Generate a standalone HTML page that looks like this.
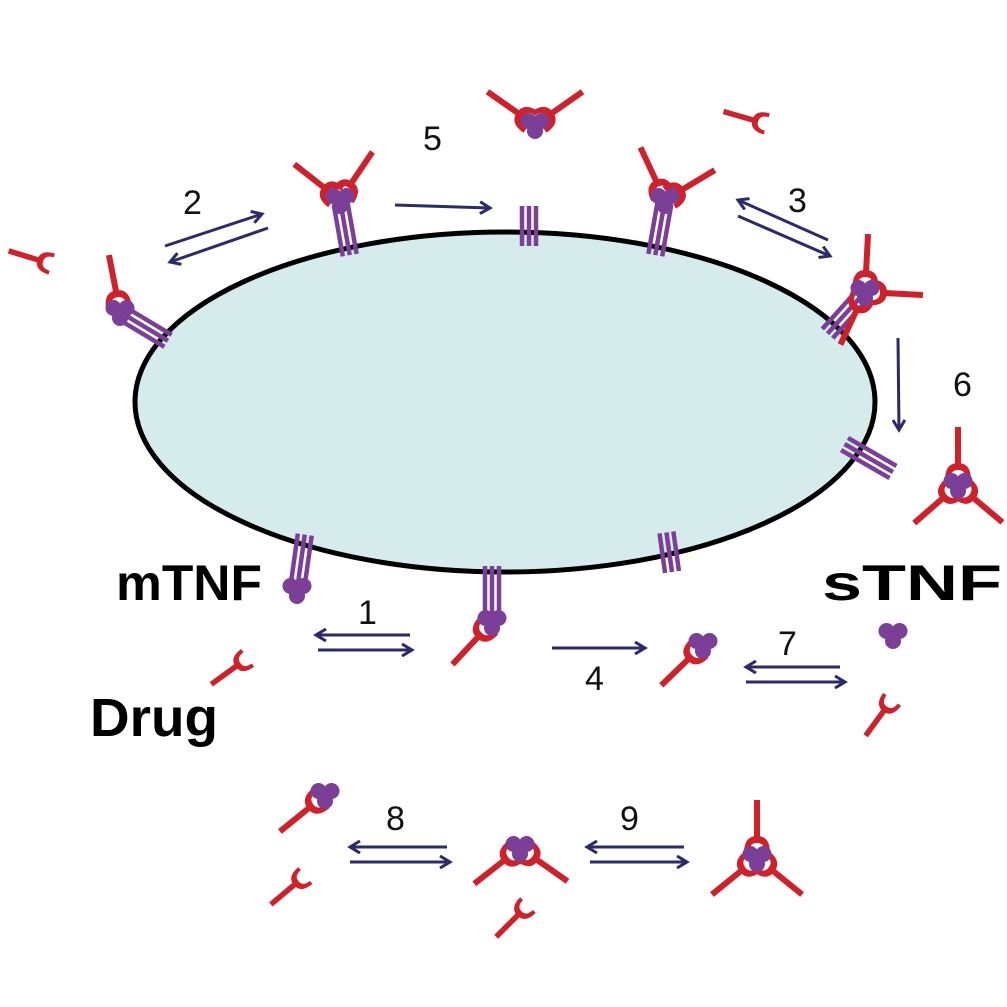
<!DOCTYPE html>
<html><head><meta charset="utf-8"><style>
html,body{margin:0;padding:0;background:#fff;}
svg{display:block;}
text{font-family:"Liberation Sans",sans-serif;}
</style></head><body>
<svg width="1007" height="1007" viewBox="0 0 1007 1007" xmlns="http://www.w3.org/2000/svg">
<defs>
<marker id="ah" markerWidth="14" markerHeight="14" refX="11" refY="7" orient="auto" markerUnits="userSpaceOnUse">
<path d="M1,1 L11,7 L1,13" fill="none" stroke="#2b2a6b" stroke-width="3"/>
</marker>
<g id="drug"><path d="M-13,-7 Q-13,10 0,10 Q13,10 13,-7 L8,-7 Q8,3 0,3 Q-8,3 -8,-7 Z" fill="#d0202a"/><line x1="0" y1="8" x2="0" y2="46" stroke="#d0202a" stroke-width="6"/></g>
<g id="drugS"><path d="M-11,-7 Q-11,8 0,8 Q11,8 11,-7 L7,-7 Q7,2 0,2 Q-7,2 -7,-7 Z" fill="#d0202a"/><line x1="0" y1="6" x2="0" y2="38" stroke="#d0202a" stroke-width="5.5"/></g>
<g id="tri" fill="#7b3f98"><circle cx="-6.5" cy="-4" r="8"/><circle cx="6.5" cy="-4" r="8"/><circle cx="0" cy="6" r="8"/></g>
<g id="stalk" stroke="#7b3f98" stroke-width="4.5"><line x1="-7" y1="4" x2="-7" y2="56"/><line x1="0" y1="4" x2="0" y2="56"/><line x1="7" y1="4" x2="7" y2="56"/></g>
<g id="stalkS" stroke="#7b3f98" stroke-width="4.5"><line x1="-7" y1="0" x2="-7" y2="40"/><line x1="0" y1="0" x2="0" y2="40"/><line x1="7" y1="0" x2="7" y2="40"/></g>
</defs>

<ellipse cx="505" cy="402" rx="370" ry="170" fill="#d6ecec" stroke="#000" stroke-width="5"/>

<g transform="translate(340,200)"><g transform="rotate(-10)"><use href="#stalk"/></g><g transform="rotate(128) translate(0,12)"><use href="#drug"/></g><g transform="rotate(-146) translate(0,12)"><use href="#drug"/></g><use href="#tri"/></g>
<g transform="translate(120,312)"><g transform="rotate(-59)"><use href="#stalk"/></g><g transform="rotate(169) translate(0,12)"><use href="#drug"/></g><use href="#tri"/></g>
<g transform="translate(45,262) rotate(107)"><use href="#drugS"/></g>
<g transform="translate(529,206)"><use href="#stalkS"/></g>
<g transform="translate(535,125)"><g transform="rotate(125) translate(0,12)"><use href="#drug"/></g><g transform="rotate(-125) translate(0,12)"><use href="#drug"/></g><use href="#tri"/></g>
<g transform="translate(760,122) rotate(106)"><use href="#drugS"/></g>
<g transform="translate(665,200)"><g transform="rotate(10)"><use href="#stalk"/></g><g transform="rotate(155) translate(0,12)"><use href="#drug"/></g><g transform="rotate(-121) translate(0,12)"><use href="#drug"/></g><use href="#tri"/></g>
<g transform="translate(865,292)"><g transform="rotate(42)"><use href="#stalk"/></g><g transform="rotate(25) translate(0,12)"><use href="#drug"/></g><g transform="rotate(-177) translate(0,12)"><use href="#drug"/></g><g transform="rotate(-87) translate(0,12)"><use href="#drug"/></g><use href="#tri"/></g>
<g transform="translate(893,472) rotate(120)"><use href="#stalkS" transform="scale(1,1.4)"/></g>
<g transform="translate(958,485)"><g transform="rotate(180) translate(0,12)"><use href="#drug"/></g><g transform="rotate(49) translate(0,12)"><use href="#drug"/></g><g transform="rotate(-50) translate(0,12)"><use href="#drug"/></g><use href="#tri"/></g>
<g transform="translate(297,590)"><g transform="rotate(-172)"><use href="#stalk"/></g><use href="#tri"/></g>
<g transform="translate(492,622)"><g transform="rotate(180)"><use href="#stalk"/></g><g transform="rotate(43) translate(0,12)"><use href="#drug"/></g><use href="#tri"/></g>
<g transform="translate(672,572) rotate(172)"><use href="#stalkS"/></g>
<g transform="translate(703,645)"><g transform="rotate(46) translate(0,12)"><use href="#drug"/></g><use href="#tri"/></g>
<g transform="translate(893,635)"><use href="#tri"/></g>
<g transform="translate(888,705) rotate(36)"><use href="#drugS"/></g>
<g transform="translate(242,662) rotate(54)"><use href="#drugS"/></g>
<g transform="translate(325,795)"><g transform="rotate(51) translate(0,12)"><use href="#drug"/></g><use href="#tri"/></g>
<g transform="translate(300,880) rotate(50)"><use href="#drugS"/></g>
<g transform="translate(520,848)"><g transform="rotate(52) translate(0,12)"><use href="#drug"/></g><g transform="rotate(-55) translate(0,12)"><use href="#drug"/></g><use href="#tri"/></g>
<g transform="translate(523,910) rotate(45)"><use href="#drugS"/></g>
<g transform="translate(757,858)"><g transform="rotate(180) translate(0,12)"><use href="#drug"/></g><g transform="rotate(51) translate(0,12)"><use href="#drug"/></g><g transform="rotate(-51) translate(0,12)"><use href="#drug"/></g><use href="#tri"/></g>

<g stroke="#2b2a6b" stroke-width="3" fill="none" marker-end="url(#ah)">
<line x1="410" y1="635" x2="316" y2="635"/>
<line x1="318" y1="650" x2="412" y2="650"/>
<line x1="165" y1="246" x2="262" y2="214"/>
<line x1="268" y1="228" x2="170" y2="262"/>
<line x1="828" y1="240" x2="738" y2="200"/>
<line x1="738" y1="216" x2="830" y2="256"/>
<line x1="552" y1="648" x2="645" y2="648"/>
<line x1="395" y1="205" x2="490" y2="208"/>
<line x1="898" y1="338" x2="899" y2="430"/>
<line x1="840" y1="667" x2="746" y2="667"/>
<line x1="746" y1="682" x2="845" y2="682"/>
<line x1="447" y1="847" x2="350" y2="847"/>
<line x1="350" y1="862" x2="450" y2="862"/>
<line x1="684" y1="847" x2="587" y2="847"/>
<line x1="590" y1="862" x2="687" y2="862"/>
</g>

<g font-size="34" fill="#111">
<text x="358" y="624">1</text>
<text x="183" y="214">2</text>
<text x="788" y="212">3</text>
<text x="585" y="690">4</text>
<text x="423" y="150">5</text>
<text x="953" y="396">6</text>
<text x="778" y="655">7</text>
<text x="386" y="830">8</text>
<text x="620" y="830">9</text>
</g>
<g font-weight="bold" fill="#000">
<text x="116" y="600" font-size="50" textLength="146" lengthAdjust="spacingAndGlyphs">mTNF</text>
<text x="822" y="600" font-size="50" textLength="180" lengthAdjust="spacingAndGlyphs">sTNF</text>
<text x="90" y="736" font-size="54" textLength="128" lengthAdjust="spacingAndGlyphs">Drug</text>
</g>
</svg>
</body></html>
